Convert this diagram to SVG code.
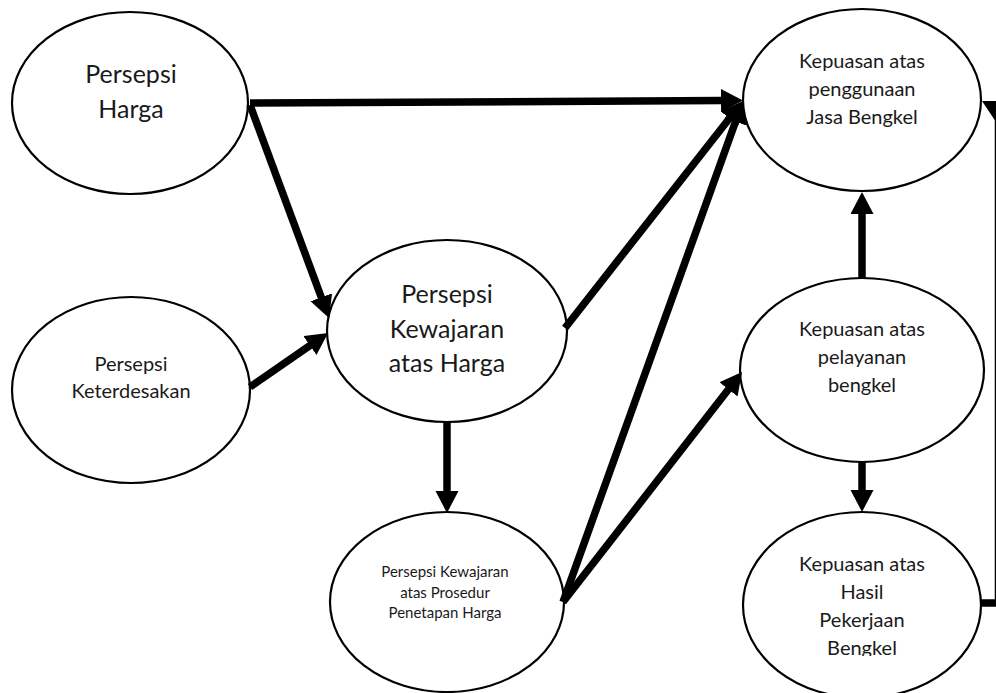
<svg xmlns="http://www.w3.org/2000/svg" width="996" height="693" viewBox="0 0 996 693">
<style>
.node ellipse{fill:#fff;stroke:#000;stroke-width:2.2}
.node text{font-family:Lato,"Liberation Sans",sans-serif;fill:#1a1a1a;text-anchor:middle}
.big{font-size:25px}
.mid{font-size:20px}
.sml{font-size:15px}
.conn line,.conn polyline{stroke:#000;stroke-width:7.5;fill:none}
</style>
<defs>
<marker id="ah" markerUnits="userSpaceOnUse" markerWidth="24" markerHeight="24" refX="2" refY="11.5" orient="auto">
<path d="M0,0 L22,11.5 L0,23 z" fill="#000"/>
</marker>
<clipPath id="clip7"><rect x="740" y="500" width="250" height="156"/></clipPath>
</defs>
<rect width="996" height="693" fill="#fff"/>
<g id="persepsi-harga" class="node">
<ellipse cx="130" cy="103" rx="118" ry="91"/>
<text class="big" x="131" y="83">Persepsi</text>
<text class="big" x="131" y="118">Harga</text>
</g>
<g id="persepsi-keterdesakan" class="node">
<ellipse cx="131" cy="390" rx="119" ry="93"/>
<text class="mid" x="131" y="371">Persepsi</text>
<text class="mid" x="131" y="398">Keterdesakan</text>
</g>
<g id="persepsi-kewajaran-harga" class="node">
<ellipse cx="447" cy="331" rx="120" ry="91"/>
<text class="big" x="447" y="303">Persepsi</text>
<text class="big" x="447" y="338">Kewajaran</text>
<text class="big" x="447" y="372">atas Harga</text>
</g>
<g id="persepsi-kewajaran-prosedur" class="node">
<ellipse cx="447" cy="602" rx="117" ry="90"/>
<text class="sml" x="445" y="577">Persepsi Kewajaran</text>
<text class="sml" x="445" y="597.5">atas Prosedur</text>
<text class="sml" x="445" y="618">Penetapan Harga</text>
</g>
<g id="kepuasan-penggunaan" class="node">
<ellipse cx="862" cy="100" rx="119" ry="91"/>
<text class="mid" x="862" y="68">Kepuasan atas</text>
<text class="mid" x="862" y="96">penggunaan</text>
<text class="mid" x="862" y="124">Jasa Bengkel</text>
</g>
<g id="kepuasan-pelayanan" class="node">
<ellipse cx="862" cy="370" rx="122" ry="92"/>
<text class="mid" x="862" y="336">Kepuasan atas</text>
<text class="mid" x="862" y="364">pelayanan</text>
<text class="mid" x="862" y="392">bengkel</text>
</g>
<g id="kepuasan-hasil" class="node">
<ellipse cx="862" cy="605" rx="119" ry="93"/>
<g clip-path="url(#clip7)">
<text class="mid" x="862" y="571">Kepuasan atas</text>
<text class="mid" x="862" y="599">Hasil</text>
<text class="mid" x="862" y="627">Pekerjaan</text>
<text class="mid" x="862" y="655">Bengkel</text>
</g>
</g>
<g id="connectors" class="conn">
<line x1="250" y1="103" x2="723" y2="100.5" marker-end="url(#ah)"/>
<line x1="250" y1="105" x2="322" y2="299.2" marker-end="url(#ah)"/>
<line x1="250" y1="387" x2="311.6" y2="344.4" marker-end="url(#ah)"/>
<line x1="565" y1="328" x2="730.7" y2="116.7" marker-end="url(#ah)"/>
<line x1="563" y1="602" x2="736.2" y2="119.8" marker-end="url(#ah)"/>
<line x1="563" y1="602" x2="729.7" y2="387.8" marker-end="url(#ah)"/>
<line x1="447" y1="422" x2="447" y2="493" marker-end="url(#ah)"/>
<line x1="862" y1="278" x2="862" y2="212" marker-end="url(#ah)"/>
<line x1="862" y1="462" x2="862" y2="492" marker-end="url(#ah)"/>
<polyline points="981,603 998.5,603 998.5,112"/>
<polygon points="982,101 1007,101 996,122" fill="#000"/>
</g>
</svg>
